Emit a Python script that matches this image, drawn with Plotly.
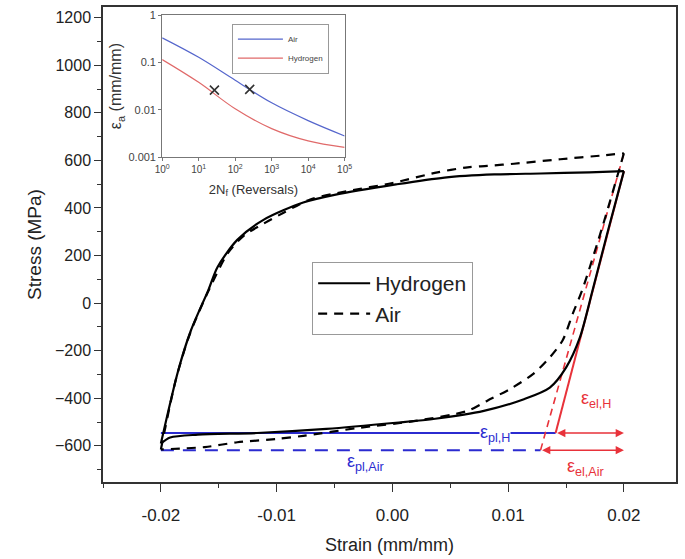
import plotly.graph_objects as go

# ---------------- main hysteresis data (strain mm/mm, stress MPa) ----------------
h_up_strain = [-0.0200, -0.0185, -0.0174, -0.0159, -0.0151, -0.0134, -0.0111, -0.0077,
               -0.0050, 0.0003, 0.0045, 0.0088, 0.0128, 0.0170, 0.0200]
h_up_stress = [-590, -283, -114, 55, 152, 266, 351, 423, 455, 499, 528, 541, 545, 550, 555]

h_dn_strain = [0.0200, 0.0186, 0.0173, 0.0162, 0.0150, 0.0136, 0.0113, 0.0079, 0.0037,
               0.0003, -0.0057, -0.0117, -0.0168, -0.0192, -0.0200]
h_dn_stress = [555, 300, 55, -144, -271, -355, -405, -453, -486, -503, -529, -546, -553, -565, -590]

air_up_strain = [-0.0200, -0.0187, -0.0175, -0.0160, -0.0142, -0.0128, -0.0111, -0.0094,
                 -0.0071, -0.0040, 0.0000, 0.0039, 0.0065, 0.0082, 0.0105, 0.0145, 0.0184, 0.0200]
air_up_stress = [-615, -320, -130, 40, 211, 285, 335, 380, 436, 470, 505, 550, 571, 577, 586,
                 605, 622, 630]

air_dn_strain = [0.0200, 0.0182, 0.0164, 0.0156, 0.0147, 0.0136, 0.0122, 0.0102, 0.0082,
                 0.0065, 0.0020, -0.0030, -0.0077, -0.0100, -0.0134, -0.0162, -0.0200]
air_dn_stress = [630, 330, 55, -42, -157, -228, -296, -360, -410, -453, -495, -525, -558,
                 -571, -585, -605, -615]

# plastic / elastic strain construction lines
pl_h_strain = [-0.0200, 0.0141]
pl_h_stress = [-546, -546]
pl_air_strain = [-0.0200, 0.0128]
pl_air_stress = [-618, -618]
el_h_strain = [0.0141, 0.0200]
el_h_stress = [-546, 555]
el_air_strain = [0.0128, 0.0200]
el_air_stress = [-618, 630]

# ---------------- inset: strain-life curves ----------------
rev = [1, 10, 100, 1000, 10000, 100000]
air_ea = [0.33, 0.128, 0.042, 0.014, 0.0059, 0.0028]
hyd_ea = [0.115, 0.038, 0.0105, 0.004, 0.0022, 0.0016]
mark_rev = [27, 250]
mark_ea = [0.026, 0.027]

BLUE = "#2b2bd0"
RED = "#e8323a"
FONT = "Liberation Sans, Arial, sans-serif"

fig = go.Figure()

# construction lines
fig.add_trace(go.Scatter(x=pl_h_strain, y=pl_h_stress, mode="lines",
                         line=dict(color=BLUE, width=2), showlegend=False))
fig.add_trace(go.Scatter(x=pl_air_strain, y=pl_air_stress, mode="lines",
                         line=dict(color=BLUE, width=2, dash="13px,9px"), showlegend=False))
fig.add_trace(go.Scatter(x=el_h_strain, y=el_h_stress, mode="lines",
                         line=dict(color=RED, width=2), showlegend=False))
fig.add_trace(go.Scatter(x=el_air_strain, y=el_air_stress, mode="lines",
                         line=dict(color=RED, width=1.6, dash="7px,5px"), showlegend=False))

# loops
fig.add_trace(go.Scatter(x=h_up_strain, y=h_up_stress, mode="lines", name="Hydrogen",
                         line=dict(color="black", width=2.2, shape="spline", smoothing=0.8),
                         legend="legend"))
fig.add_trace(go.Scatter(x=h_dn_strain, y=h_dn_stress, mode="lines", showlegend=False,
                         line=dict(color="black", width=2.2, shape="spline", smoothing=0.8)))
fig.add_trace(go.Scatter(x=air_up_strain, y=air_up_stress, mode="lines", name="Air",
                         line=dict(color="black", width=2.2, dash="9px,7px", shape="spline",
                                   smoothing=0.8), legend="legend"))
fig.add_trace(go.Scatter(x=air_dn_strain, y=air_dn_stress, mode="lines", showlegend=False,
                         line=dict(color="black", width=2.2, dash="9px,7px", shape="spline",
                                   smoothing=0.8)))

# inset traces
fig.add_trace(go.Scatter(x=rev, y=air_ea, mode="lines", name="Air", xaxis="x2", yaxis="y2",
                         line=dict(color="#5566cc", width=1.2, shape="spline"),
                         legend="legend2"))
fig.add_trace(go.Scatter(x=rev, y=hyd_ea, mode="lines", name="Hydrogen", xaxis="x2", yaxis="y2",
                         line=dict(color="#e06a6a", width=1.2, shape="spline"),
                         legend="legend2"))
fig.add_trace(go.Scatter(x=mark_rev, y=mark_ea, mode="markers", showlegend=False,
                         xaxis="x2", yaxis="y2",
                         marker=dict(symbol="x-thin", size=9, line=dict(color="#333", width=1.6))))

# arrows for elastic strains
for (x0, x1, y) in [(el_h_strain[0], 0.0200, pl_h_stress[0]),
                    (el_air_strain[0], 0.0200, pl_air_stress[0])]:
    fig.add_annotation(x=x1, y=y, ax=x0, ay=y, xref="x", yref="y", axref="x", ayref="y",
                       text="", showarrow=True, arrowhead=2, arrowsize=1.1, arrowwidth=1.5,
                       arrowside="end+start", arrowcolor=RED)

# strain labels
labels = [
    (0.0089, -546, "ε<sub>pl,H</sub>", BLUE, "white"),
    (-0.0023, -668, "ε<sub>pl,Air</sub>", BLUE, "rgba(0,0,0,0)"),
    (0.0176, -405, "ε<sub>el,H</sub>", RED, "rgba(0,0,0,0)"),
    (0.0167, -692, "ε<sub>el,Air</sub>", RED, "rgba(0,0,0,0)"),
]
for x, y, t, c, bg in labels:
    fig.add_annotation(x=x, y=y, xref="x", yref="y", text=t, showarrow=False,
                       font=dict(family=FONT, size=18, color=c), bgcolor=bg, borderpad=0)

axis_common = dict(showline=True, linecolor="#333", linewidth=1.5, mirror=True,
                   ticks="outside", tickcolor="#333", showgrid=False, zeroline=False)

fig.update_layout(
    width=685, height=559,
    margin=dict(l=103, r=1, t=7, b=77),
    paper_bgcolor="white", plot_bgcolor="white",
    font=dict(family=FONT, color="#222"),
    xaxis=dict(range=[-0.0250, 0.0245], tickvals=[-0.02, -0.01, 0.0, 0.01, 0.02],
               ticktext=["-0.02", "-0.01", "0.00", "0.01", "0.02"], ticklen=8,
               ticklabelstandoff=9,
               tickfont=dict(family=FONT, size=17, color="#222"),
               minor=dict(ticks="outside", ticklen=4, dtick=0.005, tick0=0, tickcolor="#333"),
               title=dict(text="Strain (mm/mm)", font=dict(family=FONT, size=18, color="#222"),
                          standoff=14),
               **axis_common),
    yaxis=dict(range=[-752, 1245], tickvals=[-600, -400, -200, 0, 200, 400, 600, 800, 1000, 1200],
               ticklen=7,
               tickfont=dict(family=FONT, size=16, color="#222"),
               minor=dict(ticks="outside", ticklen=4, dtick=100, tick0=0, tickcolor="#333"),
               title=dict(text="Stress (MPa)", font=dict(family=FONT, size=19, color="#222"),
                          standoff=8),
               **axis_common),
    xaxis2=dict(type="log", range=[0, 5], domain=[0.1033, 0.4217], anchor="y2",
                showline=True, linecolor="#777", linewidth=1, mirror=True, showgrid=False,
                ticks="outside", ticklen=3, tickcolor="#777",
                tickvals=[1, 10, 100, 1000, 10000, 100000],
                ticktext=["10<sup>0</sup>", "10<sup>1</sup>", "10<sup>2</sup>", "10<sup>3</sup>",
                          "10<sup>4</sup>", "10<sup>5</sup>"],
                tickfont=dict(family=FONT, size=10, color="#444"),
                title=dict(text="2N<sub>f</sub> (Reversals)",
                           font=dict(family=FONT, size=13, color="#333"), standoff=10)),
    yaxis2=dict(type="log", range=[-3, 0], domain=[0.684, 0.983], anchor="x2",
                showline=True, linecolor="#777", linewidth=1, mirror=True, showgrid=False,
                ticks="outside", ticklen=3, tickcolor="#777",
                tickvals=[0.001, 0.01, 0.1, 1], ticktext=["0.001", "0.01", "0.1", "1"],
                tickfont=dict(family=FONT, size=11, color="#444"),
                title=dict(text="ε<sub>a</sub> (mm/mm)",
                           font=dict(family=FONT, size=16, color="#333"), standoff=2)),
    legend=dict(x=0.365, y=0.463, xanchor="left", yanchor="top",
                bgcolor="white", bordercolor="#999", borderwidth=1,
                font=dict(family=FONT, size=21, color="#222"),
                tracegroupgap=0, itemwidth=52),
    legend2=dict(x=0.225, y=0.965, xanchor="left", yanchor="top",
                 bgcolor="white", bordercolor="#999", borderwidth=1,
                 font=dict(family=FONT, size=8, color="#444"),
                 tracegroupgap=0, itemwidth=45),
)

fig.write_html("out.html")
